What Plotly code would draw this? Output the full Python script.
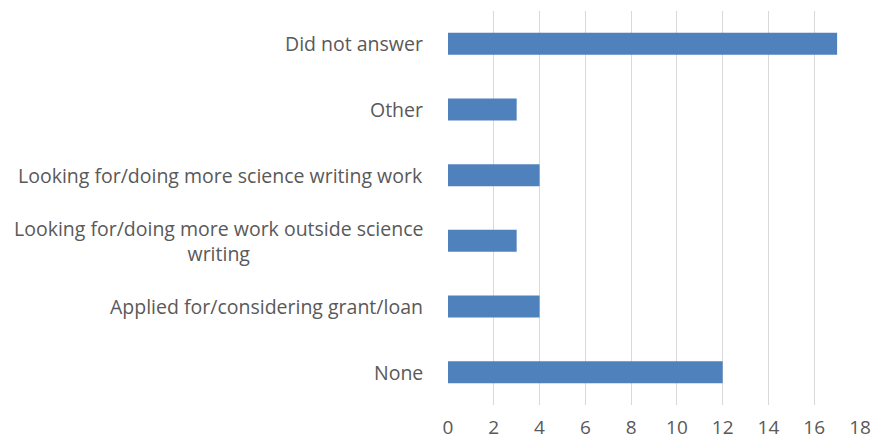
import plotly.graph_objects as go

categories = [
    "None",
    "Applied for/considering grant/loan",
    "Looking for/doing more work outside science<br>writing",
    "Looking for/doing more science writing work",
    "Other",
    "Did not answer",
]
values = [12, 4, 3, 4, 3, 17]
x_ticks = [0, 2, 4, 6, 8, 10, 12, 14, 16, 18]

FONT = "Open Sans"
TXT = "#595959"

fig = go.Figure(
    go.Bar(
        x=values,
        y=categories,
        orientation="h",
        marker=dict(color="#4F81BD", line=dict(color="#4F81BD", width=0)),
        hoverinfo="skip",
    )
)

annotations = [
    dict(
        x=0, y=c, xref="paper", yref="y", text=c, showarrow=False,
        xanchor="right", yanchor="middle", align="center", xshift=-23,
        font=dict(family=FONT, size=19.5, color=TXT),
    )
    for c in categories
]

fig.update_layout(
    width=872, height=441,
    margin=dict(l=448, r=12, t=11, b=36),
    paper_bgcolor="white", plot_bgcolor="white",
    bargap=0.665,
    showlegend=False,
    annotations=annotations,
    xaxis=dict(
        range=[0, 18], tickvals=x_ticks, showgrid=True, gridcolor="#D9D9D9",
        gridwidth=1, zeroline=False, showline=False, automargin=False,
        tickfont=dict(family=FONT, size=19, color=TXT),
        ticks="", ticklabelstandoff=9, ticklabeloverflow="allow",
    ),
    yaxis=dict(
        categoryorder="array", categoryarray=categories,
        showticklabels=False, showgrid=False, zeroline=False, showline=False,
        automargin=False,
    ),
)

fig.write_html(
    "out.html",
    config={"displayModeBar": False},
    post_script="document.body.style.margin='0';document.body.style.overflow='hidden';",
)
